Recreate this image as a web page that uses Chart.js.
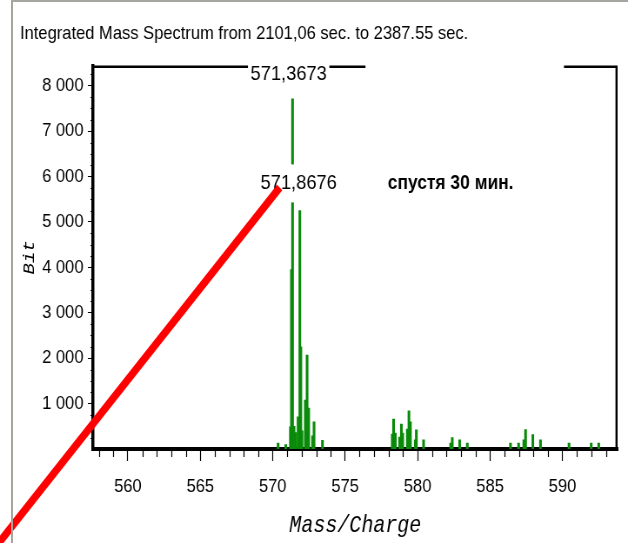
<!DOCTYPE html>
<html>
<head>
<meta charset="utf-8">
<title>Integrated Mass Spectrum</title>
<script src="https://cdn.jsdelivr.net/npm/chart.js@4.4.1/dist/chart.umd.min.js"></script>
<style>
  html, body { margin: 0; padding: 0; background: #fff; }
  #wrap { position: relative; width: 628px; height: 543px; overflow: hidden; }
  /* the source picture is squeezed sideways, so the canvas is too */
  #spectrum { position: absolute; left: 0; top: 0; transform: scaleX(0.8698); transform-origin: 0 0; }
  #frame {
    position: absolute; left: 11px; top: 0; right: 0; bottom: 0;
    border-left: 2px solid #a6a69e; border-top: 2px solid #a6a69e;
    pointer-events: none;
  }
</style>
</head>
<body>
<div id="wrap">
  <canvas id="spectrum" width="722" height="543"></canvas>
  <div id="frame"></div>
</div>
<script>
// peaks: m/z and intensity (Bit)
var massCharge = [
  570.37, 570.90, 571.22, 571.29, 571.3673, 571.47, 571.58, 571.75, 571.8676, 571.94,
  572.02, 572.25, 572.37, 572.48, 572.75, 572.85, 573.43,
  578.25, 578.34, 578.46, 578.76, 578.88, 578.97, 579.29, 579.40, 579.50, 579.84, 579.91, 580.41,
  582.28, 582.39, 582.90, 583.43,
  586.41, 586.97, 587.33, 587.45, 587.95, 588.48,
  590.45, 591.98, 592.50
];
var intensity = [
  130, 100, 490, 3950, 7715, 500, 360, 710, 5250, 2250,
  400, 1080, 2070, 900, 290, 600, 190,
  330, 660, 350, 260, 550, 350, 440, 840, 600, 200, 420, 200,
  130, 250, 200, 130,
  130, 130, 200, 430, 320, 200,
  130, 130, 130
];
var xTickValues = [560, 565, 570, 575, 580, 585, 590];
var yTickValues = [1000, 2000, 3000, 4000, 5000, 6000, 7000, 8000];
var yTickLabels = ["1 000", "2 000", "3 000", "4 000", "5 000", "6 000", "7 000", "8 000"];

var titleText = "Integrated Mass Spectrum from 2101,06 sec. to 2387.55 sec.";
var sans = "'Liberation Sans', Arial, sans-serif";
var mono = "'Liberation Mono', 'DejaVu Sans Mono', monospace";

// annotations, anchored in data space
var notes = [
  { text: "571,3673", mz: 571.10, val: null, bold: false, box: true },
  { text: "571,8676", mz: 571.79, val: 5850, bold: false, box: true },
  { text: "спустя 30 мин.", mz: 582.28, val: 5850, bold: true, box: false }
];
var topGap = [576.4, 590.1];
var arrow = { from: [550.4, -2350], to: [570.48, 5760] };

var points = massCharge.map(function (m, i) { return { x: m, y: intensity[i] }; });

var decor = {
  id: "decor",
  afterDatasetsDraw: function (chart) {
    var ctx = chart.ctx, xs = chart.scales.x, ys = chart.scales.y, a = chart.chartArea;
    ctx.save();
    // minor ticks
    ctx.strokeStyle = "#000";
    ctx.lineWidth = 1.2;
    ctx.beginPath();
    for (var m = 558; m <= 593; m++) {
      if (m % 5 === 0) continue;
      var px = Math.round(xs.getPixelForValue(m)) + 0.5;
      ctx.moveTo(px, a.bottom);
      ctx.lineTo(px, a.bottom + 8);
    }
    for (var v = 250; v <= 8250; v += 250) {
      if (v % 1000 === 0) continue;
      var py = Math.round(ys.getPixelForValue(v)) + 0.5;
      ctx.moveTo(a.left - 3, py);
      ctx.lineTo(a.left, py);
    }
    ctx.stroke();
    // top and right frame of the plot
    ctx.lineWidth = 2;
    ctx.beginPath();
    ctx.moveTo(a.left, a.top + 1);
    ctx.lineTo(xs.getPixelForValue(topGap[0]), a.top + 1);
    ctx.moveTo(xs.getPixelForValue(topGap[1]), a.top + 1);
    ctx.lineTo(a.right - 1.2, a.top + 1);
    ctx.lineTo(a.right - 1.2, a.bottom);
    ctx.lineWidth = 2.4;
    ctx.stroke();
    // labels
    ctx.textAlign = "center";
    ctx.textBaseline = "middle";
    notes.forEach(function (n) {
      ctx.font = (n.bold ? "bold 20px " : "21px ") + sans;
      var x = xs.getPixelForValue(n.mz);
      var y = n.val === null ? a.top + 8 : ys.getPixelForValue(n.val);
      if (n.box) {
        var w = ctx.measureText(n.text).width;
        ctx.fillStyle = "#fff";
        ctx.fillRect(x - w / 2 - 3, y - (n.val === null ? 10 : 19), w + 6, n.val === null ? 20 : 38);
      }
      ctx.fillStyle = "#000";
      ctx.fillText(n.text, x, y);
    });
    ctx.restore();
  },
  afterDraw: function (chart) {
    var ctx = chart.ctx, xs = chart.scales.x, ys = chart.scales.y;
    ctx.save();
    ctx.strokeStyle = "#ff0000";
    ctx.lineWidth = 8;
    ctx.beginPath();
    ctx.moveTo(xs.getPixelForValue(arrow.from[0]), ys.getPixelForValue(arrow.from[1]));
    ctx.lineTo(xs.getPixelForValue(arrow.to[0]), ys.getPixelForValue(arrow.to[1]));
    ctx.stroke();
    ctx.restore();
  }
};

new Chart(document.getElementById("spectrum"), {
  type: "bar",
  data: {
    datasets: [{
      data: points,
      backgroundColor: "#0a8a0a",
      borderWidth: 0,
      barThickness: 2.4
    }]
  },
  options: {
    responsive: false,
    animation: false,
    layout: { padding: { left: 23, right: 12, top: 0, bottom: 0 } },
    plugins: {
      legend: { display: false },
      tooltip: { enabled: false },
      title: {
        display: true,
        text: titleText,
        align: "start",
        color: "#000",
        font: { family: sans, size: 19, weight: "normal" },
        padding: { top: 22, bottom: 21 }
      }
    },
    scales: {
      x: {
        type: "linear",
        offset: false,
        min: 557.6,
        max: 593.8,
        afterBuildTicks: function (scale) {
          scale.ticks = xTickValues.map(function (v) { return { value: v }; });
        },
        afterFit: function (scale) { scale.height = 94; },
        ticks: {
          color: "#000",
          font: { family: sans, size: 19 },
          padding: 14,
          maxRotation: 0,
          autoSkip: false
        },
        grid: { offset: false, drawOnChartArea: false, tickLength: 12, tickColor: "#000", tickWidth: 1.2 },
        border: { color: "#000", width: 4 },
        title: {
          display: true,
          text: "Mass/Charge",
          color: "#000",
          font: { family: mono, size: 23, style: "italic" },
          padding: { top: 0, bottom: 3 }
        }
      },
      y: {
        min: 0,
        max: 8440,
        afterBuildTicks: function (scale) {
          scale.ticks = yTickValues.map(function (v) { return { value: v }; });
        },
        afterFit: function (scale) { scale.width = 84; },
        ticks: {
          color: "#000",
          font: { family: sans, size: 19 },
          padding: 5,
          callback: function (value) {
            var i = yTickValues.indexOf(value);
            return i < 0 ? "" : yTickLabels[i];
          }
        },
        grid: { drawOnChartArea: false, tickLength: 6, tickColor: "#000" },
        border: { color: "#000", width: 3.5 },
        title: {
          display: true,
          text: "Bit",
          color: "#000",
          font: { family: mono, size: 19, style: "italic", lineHeight: 1 },
          padding: { top: 1, bottom: 0 }
        }
      }
    }
  },
  plugins: [decor]
});
</script>
</body>
</html>
